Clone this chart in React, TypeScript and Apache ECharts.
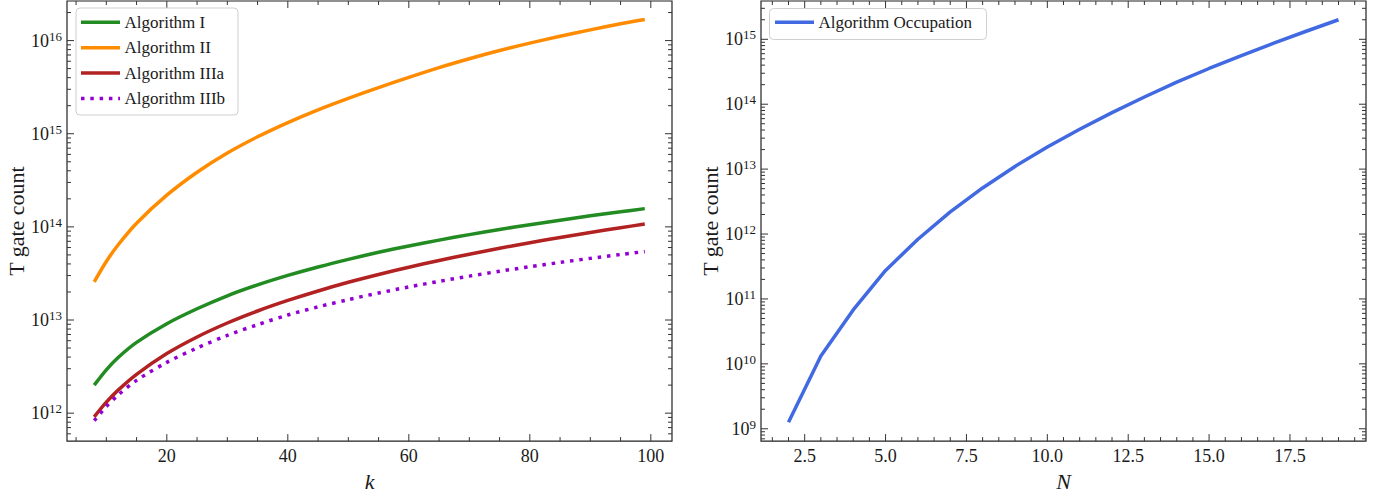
import React, { useEffect, useRef } from 'react';
import * as echarts from 'echarts';

// ---------------- data ----------------
const K = [8, 10, 12, 15, 20, 25, 30, 35, 40, 45, 50, 55, 60, 65, 70, 75, 80, 85, 90, 95, 99];
const ALG_I = [2.0e12, 2.92e12, 3.98e12, 5.75e12, 9.12e12, 1.32e13, 1.82e13, 2.38e13, 3.01e13, 3.71e13, 4.48e13, 5.33e13, 6.24e13, 7.21e13, 8.26e13, 9.38e13, 1.056e14, 1.18e14, 1.315e14, 1.45e14, 1.57e14];
const ALG_II = [2.57e13, 4.25e13, 6.47e13, 1.096e14, 2.19e14, 3.86e14, 6.21e14, 9.27e14, 1.318e15, 1.807e15, 2.399e15, 3.126e15, 4.027e15, 5.129e15, 6.383e15, 7.816e15, 9.397e15, 1.114e16, 1.303e16, 1.514e16, 1.683e16];
const ALG_IIIA = [9.12e11, 1.312e12, 1.778e12, 2.612e12, 4.365e12, 6.577e12, 9.29e12, 1.25e13, 1.622e13, 2.051e13, 2.54e13, 3.083e13, 3.69e13, 4.355e13, 5.09e13, 5.89e13, 6.76e13, 7.69e13, 8.71e13, 9.79e13, 1.072e14];
const ALG_IIIB = [8.32e11, 1.178e12, 1.574e12, 2.248e12, 3.51e12, 5.01e12, 6.84e12, 8.91e12, 1.132e13, 1.383e13, 1.656e13, 1.95e13, 2.265e13, 2.6e13, 2.96e13, 3.34e13, 3.73e13, 4.15e13, 4.59e13, 5.05e13, 5.43e13];

const N = [2, 3, 4, 5, 6, 7, 8, 9, 10, 11, 12, 13, 14, 15, 16, 17, 18, 19];
const OCC = [1.26e9, 1.32e10, 6.76e10, 2.75e11, 8.32e11, 2.19e12, 5.13e12, 1.1e13, 2.19e13, 4.12e13, 7.41e13, 1.29e14, 2.19e14, 3.55e14, 5.62e14, 8.71e14, 1.33e15, 2.0e15];

const LEFT_SERIES = [
  { name: 'Algorithm I', color: '#228B22', values: ALG_I, dotted: false },
  { name: 'Algorithm II', color: '#FF8C00', values: ALG_II, dotted: false },
  { name: 'Algorithm IIIa', color: '#B22222', values: ALG_IIIA, dotted: false },
  { name: 'Algorithm IIIb', color: '#9400D3', values: ALG_IIIB, dotted: true },
];
const RIGHT_NAME = 'Algorithm Occupation';
const RIGHT_COLOR = '#4169E1';

// ticks
const LEFT_X_TICKS = [20, 40, 60, 80, 100];
const LEFT_X_MINOR = [5, 10, 15, 25, 30, 35, 45, 50, 55, 65, 70, 75, 85, 90, 95];
const RIGHT_X_TICKS = [2.5, 5, 7.5, 10, 12.5, 15, 17.5];
const LEFT_Y_TICKS = [1e12, 1e13, 1e14, 1e15, 1e16];
const RIGHT_Y_TICKS = [1e9, 1e10, 1e11, 1e12, 1e13, 1e14, 1e15];

// ---------------- layout ----------------
const FONT = "'Liberation Serif', 'DejaVu Serif', serif";
const TXT = '#1a1a1a';
const G0 = { left: 67, top: 1, width: 605, height: 450 };
const G1 = { left: 761, top: 1, width: 605, height: 450 };
const L_XMIN = 3.5, L_XMAX = 103.5;
const R_XMIN = 1.15, R_XMAX = 19.85;
const L_YMIN = Math.pow(10, 11.7), L_YMAX = Math.pow(10, 16.425);
const R_YMIN = Math.pow(10, 8.81), R_YMAX = Math.pow(10, 15.59);

function minorX(xmin: number, xmax: number, step: number, major: number[]) {
  const out: number[] = [];
  for (let v = Math.ceil(xmin / step) * step; v < xmax; v += step) {
    const r = Math.round(v * 1000) / 1000;
    if (!major.some((m) => Math.abs(m - r) < 1e-6)) out.push(r);
  }
  return out;
}
function minorLog(ymin: number, ymax: number) {
  const out: number[] = [];
  const d0 = Math.floor(Math.log10(ymin));
  const d1 = Math.ceil(Math.log10(ymax));
  for (let d = d0; d <= d1; d++) {
    for (let m = 2; m <= 9; m++) {
      const v = m * Math.pow(10, d);
      if (v > ymin && v < ymax) out.push(v);
    }
  }
  return out;
}

function tickSeries(idx: number, xmin: number, ymin: number, xMaj: number[], xMin: number[], yMaj: number[], yMin: number[]) {
  const data: number[][] = [];
  xMaj.forEach((v) => data.push([v, ymin, 0]));
  xMin.forEach((v) => data.push([v, ymin, 1]));
  yMaj.forEach((v) => data.push([xmin, v, 2]));
  yMin.forEach((v) => data.push([xmin, v, 3]));
  return {
    type: 'custom',
    xAxisIndex: idx,
    yAxisIndex: idx,
    silent: true,
    z: 6,
    data,
    renderItem: (params: any, api: any) => {
      const cs = params.coordSys;
      const kind = api.value(2);
      const p = api.coord([api.value(0), api.value(1)]);
      const L = kind % 2 === 0 ? 7 : 4;
      const style = { stroke: '#333', lineWidth: 1 };
      if (kind < 2) {
        const x = p[0];
        const b = cs.y + cs.height;
        return {
          type: 'group',
          children: [
            { type: 'line', shape: { x1: x, y1: b, x2: x, y2: b - L }, style },
            { type: 'line', shape: { x1: x, y1: cs.y, x2: x, y2: cs.y + L }, style },
          ],
        };
      }
      const y = p[1];
      const r = cs.x + cs.width;
      return {
        type: 'group',
        children: [
          { type: 'line', shape: { x1: cs.x, y1: y, x2: cs.x + L, y2: y }, style },
          { type: 'line', shape: { x1: r, y1: y, x2: r - L, y2: y }, style },
        ],
      };
    },
  };
}

const yRich = {
  b: { fontFamily: FONT, fontSize: 18, color: TXT, lineHeight: 22, verticalAlign: 'middle' },
  s: { fontFamily: FONT, fontSize: 13, color: TXT, lineHeight: 12, verticalAlign: 'top' },
};
function yFmt(v: number) {
  const e = Math.log10(v);
  if (Math.abs(e - Math.round(e)) > 1e-6) return '';
  return `{b|10}{s|${Math.round(e)}}`;
}
function isMult(v: number, list: number[]) {
  return list.some((m) => Math.abs(m - v) < 1e-6);
}

function yAxis(idx: number, min: number, max: number) {
  return {
    type: 'log',
    logBase: 10,
    gridIndex: idx,
    min,
    max,
    axisLine: { show: false },
    axisTick: { show: false },
    minorTick: { show: false },
    splitLine: { show: false },
    axisLabel: { margin: 5, formatter: yFmt, rich: yRich, showMinLabel: false, showMaxLabel: false },
    name: 'T gate count',
    nameLocation: 'middle',
    nameGap: 38,
    nameTextStyle: { fontFamily: FONT, fontSize: 22, color: TXT },
  };
}

function xAxis(idx: number, min: number, max: number, interval: number, ticks: number[], name: string, dec: number) {
  return {
    type: 'value',
    gridIndex: idx,
    min,
    max,
    interval,
    axisLine: { show: false },
    axisTick: { show: false },
    minorTick: { show: false },
    splitLine: { show: false },
    axisLabel: {
      interval: 0,
      margin: 6,
      fontFamily: FONT,
      fontSize: 18,
      color: TXT,
      formatter: (v: number) => (isMult(v, ticks) ? v.toFixed(dec) : ''),
    },
    name,
    nameLocation: 'middle',
    nameGap: 23,
    nameTextStyle: { fontFamily: FONT, fontSize: 22, fontStyle: 'italic', color: TXT },
  };
}

function legendGraphic() {
  const els: any[] = [];
  const bx = G0.left + 9, by = 8;
  els.push({
    type: 'rect', z: 100,
    shape: { x: bx, y: by, width: 162, height: 107, r: 4 },
    style: { fill: 'rgba(255,255,255,0.85)', stroke: '#cfcfcf', lineWidth: 1 },
  });
  LEFT_SERIES.forEach((s, i) => {
    const y = 22.3 + i * 25.4;
    els.push({
      type: 'line', z: 101,
      shape: { x1: G0.left + 14, y1: y, x2: G0.left + 53, y2: y },
      style: { stroke: s.color, lineWidth: 3.5, lineDash: s.dotted ? [3.5, 5.8] : null },
    });
    els.push({
      type: 'text', z: 101, x: G0.left + 57.5, y,
      style: { text: s.name, fontFamily: FONT, fontSize: 17, fill: TXT, align: 'left', verticalAlign: 'middle' },
    });
  });
  els.push({
    type: 'rect', z: 100,
    shape: { x: G1.left + 8.5, y: 8.5, width: 217, height: 31, r: 4 },
    style: { fill: 'rgba(255,255,255,0.85)', stroke: '#cfcfcf', lineWidth: 1 },
  });
  els.push({
    type: 'line', z: 101,
    shape: { x1: G1.left + 14, y1: 22.3, x2: G1.left + 53, y2: 22.3 },
    style: { stroke: RIGHT_COLOR, lineWidth: 3.5 },
  });
  els.push({
    type: 'text', z: 101, x: G1.left + 57.5, y: 22.3,
    style: { text: RIGHT_NAME, fontFamily: FONT, fontSize: 17, fill: TXT, align: 'left', verticalAlign: 'middle' },
  });
  return els;
}

export default function App() {
  const ref = useRef<HTMLDivElement>(null);
  useEffect(() => {
    if (!ref.current) return;
    const chart = echarts.init(ref.current, undefined, { renderer: 'svg' });
    const gridStyle = { show: true, borderColor: '#222', borderWidth: 1.2, backgroundColor: 'transparent', containLabel: false };
    const leftLines = LEFT_SERIES.map((s) => ({
      type: 'line',
      name: s.name,
      xAxisIndex: 0,
      yAxisIndex: 0,
      data: K.map((k, i) => [k, s.values[i]]),
      symbol: 'none',
      showSymbol: false,
      smooth: 0.3,
      z: 3,
      lineStyle: { color: s.color, width: 3.5, type: s.dotted ? [3.5, 5.8] : 'solid', cap: 'butt' },
    }));
    const option: any = {
      animation: false,
      backgroundColor: '#ffffff',
      grid: [
        { ...gridStyle, ...G0 },
        { ...gridStyle, ...G1 },
      ],
      xAxis: [
        xAxis(0, L_XMIN, L_XMAX, 0.5, LEFT_X_TICKS, 'k', 0),
        xAxis(1, R_XMIN, R_XMAX, 0.05, RIGHT_X_TICKS, 'N', 1),
      ],
      yAxis: [yAxis(0, L_YMIN, L_YMAX), yAxis(1, R_YMIN, R_YMAX)],
      series: [
        ...leftLines,
        {
          type: 'line',
          name: RIGHT_NAME,
          xAxisIndex: 1,
          yAxisIndex: 1,
          data: N.map((n, i) => [n, OCC[i]]),
          symbol: 'none',
          showSymbol: false,
          z: 3,
          lineStyle: { color: RIGHT_COLOR, width: 3.5 },
        },
        tickSeries(0, L_XMIN, L_YMIN, LEFT_X_TICKS, LEFT_X_MINOR, LEFT_Y_TICKS, minorLog(L_YMIN, L_YMAX)),
        tickSeries(1, R_XMIN, R_YMIN, RIGHT_X_TICKS, minorX(R_XMIN, R_XMAX, 0.5, RIGHT_X_TICKS), RIGHT_Y_TICKS, minorLog(R_YMIN, R_YMAX)),
      ],
      graphic: legendGraphic(),
    };
    chart.setOption(option);
    return () => chart.dispose();
  }, []);
  return (
    <div
      ref={ref}
      style={{ position: 'fixed', left: 0, top: 0, width: 1398, height: 497, background: '#fff' }}
    />
  );
}
